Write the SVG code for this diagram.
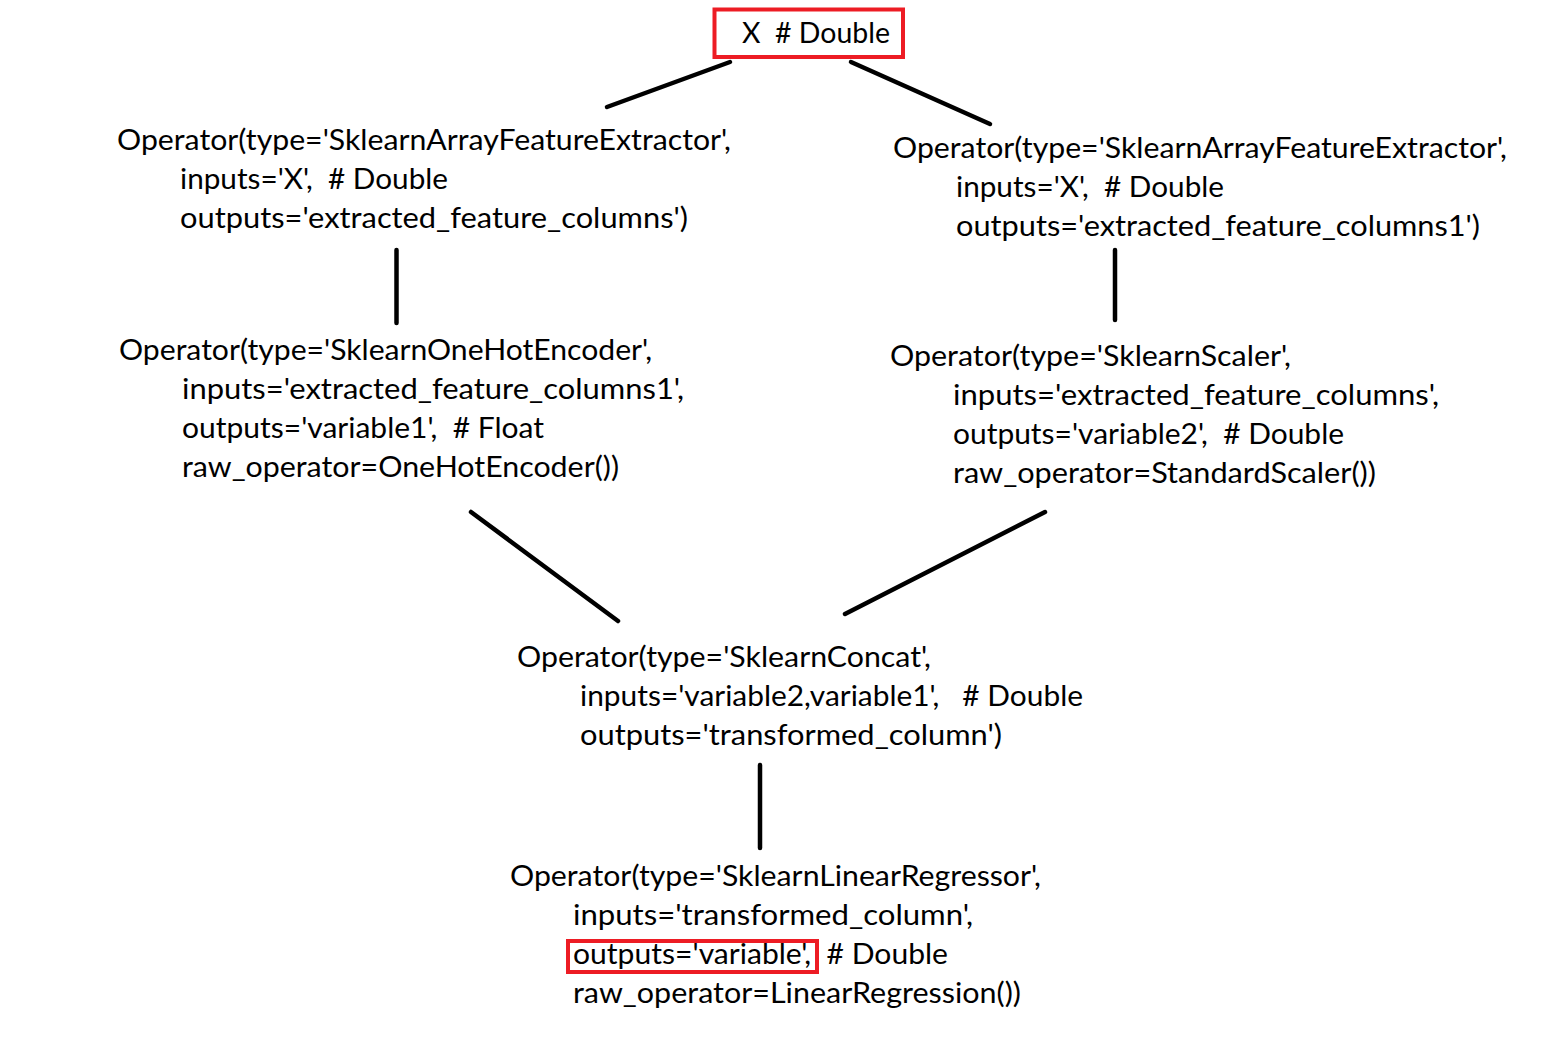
<svg xmlns="http://www.w3.org/2000/svg" width="1551" height="1038" viewBox="0 0 1551 1038">
<style>
text { font-family: Lato, "Open Sans", "Liberation Sans", sans-serif; font-size: 29px; fill: #000; white-space: pre; }
.conn line { stroke: #000; stroke-width: 4.5; stroke-linecap: round; }
.hl { fill: none; stroke: #ed1c24; stroke-width: 4; }
</style>
<rect width="1551" height="1038" fill="#fff"/>
<g id="connectors" class="conn">
  <line x1="730" y1="62" x2="607" y2="107"/>
  <line x1="851" y1="62" x2="990" y2="124"/>
  <line x1="396.5" y1="250" x2="396.5" y2="323"/>
  <line x1="1115" y1="250" x2="1115" y2="320"/>
  <line x1="471" y1="512" x2="618" y2="621"/>
  <line x1="1045" y1="512" x2="845" y2="614"/>
  <line x1="760" y1="765" x2="760" y2="848"/>
</g>
<g id="node-x">
  <rect class="hl" x="714.5" y="9.5" width="188.5" height="47.5"/>
  <text x="742" y="43" textLength="148" lengthAdjust="spacingAndGlyphs">X  # Double</text>
</g>
<g id="node-extractor1">
  <text x="117" y="150" textLength="614" lengthAdjust="spacingAndGlyphs">Operator(type='SklearnArrayFeatureExtractor',</text>
  <text x="180" y="189" textLength="268" lengthAdjust="spacingAndGlyphs">inputs='X',  # Double</text>
  <text x="180" y="228" textLength="508" lengthAdjust="spacingAndGlyphs">outputs='extracted_feature_columns')</text>
</g>
<g id="node-extractor2">
  <text x="893" y="158" textLength="614" lengthAdjust="spacingAndGlyphs">Operator(type='SklearnArrayFeatureExtractor',</text>
  <text x="956" y="197" textLength="268" lengthAdjust="spacingAndGlyphs">inputs='X',  # Double</text>
  <text x="956" y="236" textLength="524" lengthAdjust="spacingAndGlyphs">outputs='extracted_feature_columns1')</text>
</g>
<g id="node-onehot">
  <text x="119" y="360" textLength="533" lengthAdjust="spacingAndGlyphs">Operator(type='SklearnOneHotEncoder',</text>
  <text x="182" y="399" textLength="502" lengthAdjust="spacingAndGlyphs">inputs='extracted_feature_columns1',</text>
  <text x="182" y="438" textLength="362" lengthAdjust="spacingAndGlyphs">outputs='variable1',  # Float</text>
  <text x="182" y="477" textLength="437" lengthAdjust="spacingAndGlyphs">raw_operator=OneHotEncoder())</text>
</g>
<g id="node-scaler">
  <text x="890" y="366" textLength="401" lengthAdjust="spacingAndGlyphs">Operator(type='SklearnScaler',</text>
  <text x="953" y="405" textLength="486" lengthAdjust="spacingAndGlyphs">inputs='extracted_feature_columns',</text>
  <text x="953" y="444" textLength="391" lengthAdjust="spacingAndGlyphs">outputs='variable2',  # Double</text>
  <text x="953" y="483" textLength="423" lengthAdjust="spacingAndGlyphs">raw_operator=StandardScaler())</text>
</g>
<g id="node-concat">
  <text x="517" y="667" textLength="414" lengthAdjust="spacingAndGlyphs">Operator(type='SklearnConcat',</text>
  <text x="580" y="706" textLength="503" lengthAdjust="spacingAndGlyphs">inputs='variable2,variable1',   # Double</text>
  <text x="580" y="745" textLength="422" lengthAdjust="spacingAndGlyphs">outputs='transformed_column')</text>
</g>
<g id="node-linreg">
  <text x="510" y="886" textLength="531" lengthAdjust="spacingAndGlyphs">Operator(type='SklearnLinearRegressor',</text>
  <text x="573" y="925" textLength="400" lengthAdjust="spacingAndGlyphs">inputs='transformed_column',</text>
  <text x="573" y="964" textLength="375" lengthAdjust="spacingAndGlyphs">outputs='variable',  # Double</text>
  <text x="573" y="1003" textLength="448" lengthAdjust="spacingAndGlyphs">raw_operator=LinearRegression())</text>
  <rect class="hl" x="568" y="941" width="249" height="31"/>
</g>
</svg>
